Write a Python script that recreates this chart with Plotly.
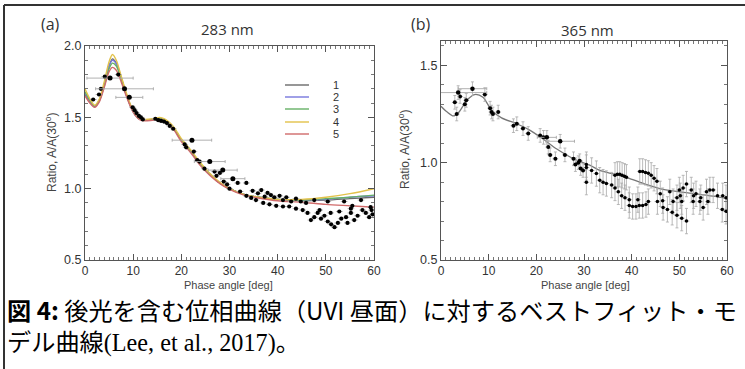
import plotly.graph_objects as go

W, H = 745, 369

# ---------------- Panel (a) 283 nm : model curves ----------------
curve_x = [0, 1, 2, 3, 4, 5, 5.7, 6.5, 7.5, 8.5, 9.5, 10.5, 11.5, 12.5, 14, 15.5, 16.5,
           17.5, 18.5, 20, 22, 24, 26, 28, 30, 33, 36, 40, 45, 50, 55, 60]
curve1 = [1.66, 1.61, 1.575, 1.62, 1.73, 1.86, 1.91, 1.88, 1.78, 1.67, 1.58, 1.52, 1.485, 1.48,
          1.485, 1.49, 1.48, 1.455, 1.42, 1.34, 1.26, 1.17, 1.10, 1.04, 1.00, 0.96, 0.94, 0.925,
          0.915, 0.92, 0.93, 0.94]
curve2 = [1.67, 1.615, 1.575, 1.62, 1.73, 1.86, 1.90, 1.875, 1.775, 1.665, 1.575, 1.515, 1.485,
          1.48, 1.485, 1.49, 1.48, 1.455, 1.42, 1.34, 1.26, 1.17, 1.10, 1.04, 1.00, 0.96, 0.94,
          0.925, 0.92, 0.925, 0.94, 0.95]
curve3 = [1.68, 1.62, 1.58, 1.62, 1.72, 1.84, 1.88, 1.86, 1.77, 1.665, 1.575, 1.515, 1.485,
          1.48, 1.485, 1.49, 1.48, 1.455, 1.42, 1.34, 1.26, 1.17, 1.10, 1.04, 1.00, 0.96, 0.94,
          0.925, 0.92, 0.93, 0.94, 0.955]
curve4 = [1.70, 1.63, 1.585, 1.63, 1.75, 1.89, 1.94, 1.90, 1.79, 1.68, 1.585, 1.525, 1.49,
          1.485, 1.49, 1.50, 1.49, 1.465, 1.43, 1.35, 1.27, 1.18, 1.105, 1.045, 1.00, 0.96, 0.94,
          0.925, 0.925, 0.94, 0.965, 1.00]
curve5 = [1.65, 1.60, 1.57, 1.61, 1.71, 1.82, 1.85, 1.83, 1.75, 1.655, 1.57, 1.51, 1.48,
          1.475, 1.48, 1.485, 1.475, 1.45, 1.41, 1.33, 1.25, 1.16, 1.09, 1.035, 0.995, 0.955,
          0.935, 0.915, 0.905, 0.89, 0.88, 0.87]
curve_names = ["1", "2", "3", "4", "5"]
curve_colors = ["#6a6a6a", "#7777dd", "#66b066", "#e2c24a", "#d06a6a"]

# ---------------- Panel (a) observations ----------------
a_big_x = [5.2, 8.2, 9.2, 22.2, 25.9, 28.6, 30.7]
a_big_y = [1.775, 1.70, 1.64, 1.34, 1.19, 1.13, 1.07]
a_big_xerr = [4.8, 6.0, 2.8, 4.1, 3.2, 3.0, 2.5]

a_x = [1.7, 2.9, 3.3, 4.1, 6.9, 9.9, 10.3, 10.7, 11.2, 11.6, 12.0, 14.6, 15.2, 15.8, 16.4,
       17.0, 17.6, 18.3, 20.7, 21.0, 22.6, 23.3, 23.8, 24.8, 26.9, 27.3, 28.0, 28.8, 29.5,
       30.0, 31.7, 32.2, 33.5, 33.5, 34.5, 34.8, 35.5, 35.9, 36.6, 37.3, 37.9, 38.6, 39.3,
       40.4, 41.1, 41.8, 42.8, 43.8, 44.8, 45.9,
       37.0, 38.3, 39.7, 41.1, 42.4, 43.8, 45.2, 46.2, 46.9, 47.6, 48.3, 49.0, 49.7, 50.4,
       51.1, 51.8, 52.5, 53.2, 54.2, 55.2, 55.9, 56.6, 57.6, 58.3, 59.0, 59.5, 59.7,
       47.6, 50.4, 53.8, 55.2, 55.5, 57.3, 59.3, 48.7, 51.0, 52.8, 54.5]
a_y = [1.625, 1.66, 1.70, 1.785, 1.80, 1.57, 1.55, 1.53, 1.51, 1.50, 1.485, 1.49, 1.48, 1.475,
       1.47, 1.46, 1.44, 1.42, 1.31, 1.29, 1.26, 1.20, 1.19, 1.14, 1.12, 1.09, 1.11, 1.05, 1.03,
       1.00, 1.04, 0.98, 1.04, 0.95, 0.935, 0.985, 0.92, 0.967, 0.99, 0.944, 0.97, 0.955, 0.94,
       0.95, 0.92, 0.94, 0.91, 0.93, 0.91, 0.90,
       0.90, 0.89, 0.88, 0.875, 0.875, 0.86, 0.85, 0.83, 0.78, 0.80, 0.83, 0.79, 0.81, 0.77,
       0.75, 0.73, 0.76, 0.79, 0.80, 0.83, 0.78, 0.81, 0.85, 0.83, 0.80, 0.85, 0.82,
       0.92, 0.91, 0.91, 0.86, 0.88, 0.92, 0.87, 0.85, 0.83, 0.84, 0.76]

# ---------------- Panel (b) 365 nm : model curve ----------------
b_curve_x = [0, 1.3, 2.6, 3.6, 4.6, 5.8, 7.1, 8.8, 10.6, 12.7, 15.9, 18.7, 21.5, 24.3, 27.8,
             31.3, 33.3, 36.5, 39.6, 42.8, 45.9, 50.1, 53.5, 57.1, 60]
b_curve_y = [1.29, 1.26, 1.24, 1.255, 1.29, 1.33, 1.35, 1.336, 1.27, 1.23, 1.20, 1.166, 1.12,
             1.07, 1.02, 0.986, 0.96, 0.94, 0.918, 0.89, 0.867, 0.85, 0.84, 0.828, 0.816]

# ---------------- Panel (b) observations ----------------
b_big_x = [3.6, 6.6, 22.2, 25.0]
b_big_y = [1.36, 1.38, 1.13, 1.11]
b_big_xerr = [6.0, 3.0, 2.0, 3.0]

b_near_x = [2.9, 3.3, 4.0, 5.0, 5.3, 9.2, 10.3, 10.6, 10.9, 12.0, 15.2, 15.9, 17.2, 18.3,
            20.8, 21.5, 22.5, 22.9, 24.0, 26.0, 27.8, 28.2, 28.8, 29.1, 29.3, 29.8]
b_near_y = [1.31, 1.25, 1.34, 1.30, 1.32, 1.35, 1.28, 1.26, 1.25, 1.26, 1.19, 1.20, 1.175,
            1.15, 1.14, 1.13, 1.08, 1.04, 1.02, 1.04, 1.02, 0.99, 1.00, 1.01, 0.97, 0.96]

b_far_x = [30.5, 30.5, 31.6, 32.6, 30.5, 33.3, 34.0, 34.7, 35.8, 36.5, 37.2, 37.9, 38.6,
           36.5, 37.0, 37.5, 38.0, 38.5, 38.9,
           41.7, 42.3, 42.9, 43.5, 44.1, 44.7, 45.3,
           39.5, 40.2, 40.9, 41.6, 42.3, 43.0,
           39.5, 41.3, 43.5, 45.4, 46.5, 48.7, 50.5, 52.9, 54.3, 56.0,
           46.6, 47.5, 48.5, 49.5, 50.5, 51.5,
           46.0, 48.0, 50.0, 50.8, 51.5, 49.5, 50.2,
           53.5, 54.5, 55.0, 55.7, 56.4, 57.1, 58.0, 59.1, 59.8, 59.0, 59.8, 52.5, 53.0]
b_far_y = [0.99, 0.975, 0.96, 0.944, 0.90, 0.91, 0.90, 0.893, 0.885, 0.87, 0.85, 0.83, 0.82,
           0.935, 0.94, 0.94, 0.935, 0.93, 0.925,
           0.955, 0.955, 0.95, 0.945, 0.935, 0.92, 0.905,
           0.78, 0.775, 0.775, 0.78, 0.78, 0.785,
           0.81, 0.81, 0.80, 0.80, 0.805, 0.80, 0.80, 0.80, 0.80, 0.80,
           0.77, 0.76, 0.745, 0.73, 0.715, 0.70,
           0.84, 0.85, 0.86, 0.87, 0.89, 0.82, 0.83,
           0.84, 0.82, 0.77, 0.85, 0.86, 0.86, 0.83, 0.83, 0.82, 0.76, 0.75, 0.86, 0.83]

x_ticks = [0, 10, 20, 30, 40, 50, 60]

ERR = "#a8a8a8"
fig = go.Figure()

for name, col, ys in zip(curve_names, curve_colors, [curve1, curve2, curve3, curve4, curve5]):
    fig.add_trace(go.Scatter(x=curve_x, y=ys, mode="lines", name=name, showlegend=False,
                             line=dict(color=col, width=1.4, shape="spline", smoothing=0.8),
                             xaxis="x", yaxis="y"))

fig.add_trace(go.Scatter(x=a_x, y=a_y, mode="markers", showlegend=False,
                         marker=dict(color="black", size=4.2),
                         error_x=dict(type="constant", value=0.7, color=ERR, thickness=0.8, width=0),
                         xaxis="x", yaxis="y"))
fig.add_trace(go.Scatter(x=a_big_x, y=a_big_y, mode="markers", showlegend=False,
                         marker=dict(color="black", size=5),
                         error_x=dict(type="data", array=a_big_xerr, color=ERR, thickness=0.9, width=1.5),
                         xaxis="x", yaxis="y"))

fig.add_trace(go.Scatter(x=b_curve_x, y=b_curve_y, mode="lines", showlegend=False,
                         line=dict(color="#777777", width=1.3, shape="spline", smoothing=0.8),
                         xaxis="x2", yaxis="y2"))
fig.add_trace(go.Scatter(x=b_near_x, y=b_near_y, mode="markers", showlegend=False,
                         marker=dict(color="black", size=4),
                         error_y=dict(type="constant", value=0.035, color=ERR, thickness=0.8, width=1.5),
                         error_x=dict(type="constant", value=0.6, color=ERR, thickness=0.8, width=0),
                         xaxis="x2", yaxis="y2"))
fig.add_trace(go.Scatter(x=b_far_x, y=b_far_y, mode="markers", showlegend=False,
                         marker=dict(color="black", size=3.5),
                         error_y=dict(type="constant", value=0.065, color=ERR, thickness=0.8, width=1.5),
                         error_x=dict(type="constant", value=0.6, color=ERR, thickness=0.8, width=0),
                         xaxis="x2", yaxis="y2"))
fig.add_trace(go.Scatter(x=b_big_x, y=b_big_y, mode="markers", showlegend=False,
                         marker=dict(color="black", size=4.5),
                         error_y=dict(type="constant", value=0.035, color=ERR, thickness=0.8, width=1.5),
                         error_x=dict(type="data", array=b_big_xerr, color=ERR, thickness=0.9, width=1.5),
                         xaxis="x2", yaxis="y2"))

def px(x):
    return x / W

def py(y):
    return 1 - y / H

tickfont = dict(family="Liberation Sans, Arial, sans-serif", size=12, color="#333")
common_x = dict(range=[0, 60], tickvals=x_ticks, ticks="inside", ticklen=6, tickcolor="#555",
                minor=dict(ticks="inside", dtick=1, ticklen=3, tickcolor="#777"),
                mirror="allticks", showline=True, linecolor="#555", linewidth=1, automargin=False,
                showgrid=False, zeroline=False, tickfont=tickfont, fixedrange=True)
common_y = dict(ticks="inside", ticklen=6, tickcolor="#555", tickformat=".1f", automargin=False,
                mirror="allticks", showline=True, linecolor="#555", linewidth=1,
                showgrid=False, zeroline=False, tickfont=dict(tickfont, size=12.5), fixedrange=True)

fig.update_layout(
    width=W, height=H, autosize=False, margin=dict(l=0, r=0, t=0, b=0, pad=0),
    paper_bgcolor="white", plot_bgcolor="white",
    xaxis=dict(domain=[px(85), px(374)], anchor="y", **common_x),
    yaxis=dict(domain=[py(260), py(46)], anchor="x", range=[0.5, 2.0], dtick=0.5,
               minor=dict(ticks="inside", dtick=0.1, ticklen=3, tickcolor="#777"), **common_y),
    xaxis2=dict(domain=[px(441), px(727)], anchor="y2", **common_x),
    yaxis2=dict(domain=[py(260), py(41)], anchor="x2", range=[0.5, 1.625], dtick=0.5,
                minor=dict(ticks="inside", dtick=0.1, ticklen=3, tickcolor="#777"), **common_y),
    showlegend=False,
)

label_font = dict(family="Liberation Sans, Arial, sans-serif", size=12, color="#444")
title_font = dict(family="Open Sans, Liberation Sans, sans-serif", size=15, color="#333")
caption = ("<b>図 4:</b> 後光を含む位相曲線（UVI 昼面）に対するベストフィット・モ<br>"
           "デル曲線<span style='font-family:Liberation Serif, serif'>(Lee, et al., 2017)</span>。")
annots = [
    dict(x=px(50), y=py(24), text="(a)", font=dict(family="Open Sans, sans-serif", size=16, color="#333")),
    dict(x=px(227), y=py(29), text="283 nm", font=title_font),
    dict(x=px(421), y=py(24), text="(b)", font=dict(family="Open Sans, sans-serif", size=16, color="#333")),
    dict(x=px(587), y=py(30), text="365 nm", font=title_font),
    dict(x=px(51), y=py(153), text="Ratio, A/A(30<sup>o</sup>)", textangle=-90, font=label_font),
    dict(x=px(404), y=py(150), text="Ratio, A/A(30<sup>o</sup>)", textangle=-90, font=label_font),
    dict(x=px(228), y=py(285), text="Phase angle [deg]", font=dict(family="Liberation Sans, Arial", size=11, color="#444")),
    dict(x=px(585), y=py(285), text="Phase angle [deg]", font=dict(family="Liberation Sans, Arial", size=11, color="#444")),
    dict(x=px(5), y=py(325), xanchor="left", align="left", text=caption,
         font=dict(family="Noto Sans CJK JP, sans-serif", size=24.2, color="black")),
]
# hand-drawn legend for panel (a)
leg_y = [85, 97, 109, 122, 134]
for name, col, ly in zip(curve_names, curve_colors, leg_y):
    fig.add_shape(type="line", xref="paper", yref="paper", x0=px(285), x1=px(309),
                  y0=py(ly), y1=py(ly), line=dict(color=col, width=1.4))
    annots.append(dict(x=px(336), y=py(ly), text=name,
                       font=dict(family="Liberation Sans, Arial", size=11, color="#333")))

for a in annots:
    a.setdefault("xanchor", "center")
    fig.add_annotation(xref="paper", yref="paper", yanchor="middle", showarrow=False, **a)

fig.add_shape(type="line", xref="paper", yref="paper", x0=px(4), x1=1, y0=py(5), y1=py(5),
              line=dict(color="#333", width=2))
fig.add_shape(type="line", xref="paper", yref="paper", x0=px(4), x1=px(4), y0=py(5), y1=0,
              line=dict(color="#333", width=2))

fig.write_html("out.html", config={"displayModeBar": False},
               post_script="document.body.style.margin='0';document.body.style.overflow='hidden';")
